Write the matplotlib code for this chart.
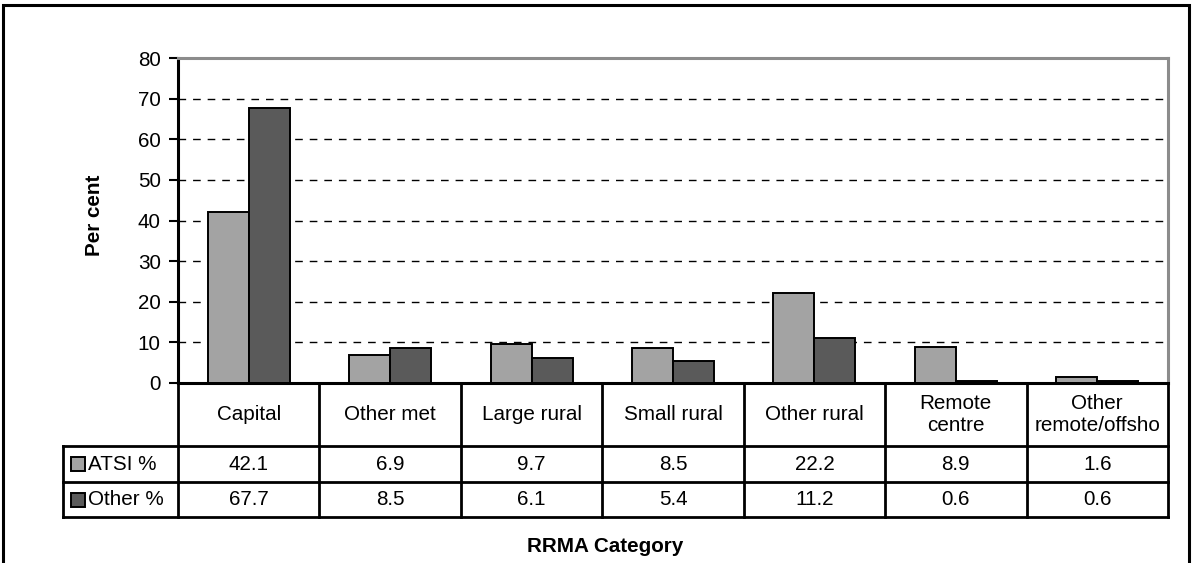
import matplotlib
matplotlib.use("Agg")
import matplotlib.pyplot as plt
import numpy as np
from matplotlib.patches import Rectangle

plt.rcParams['font.family'] = ['Liberation Sans', 'DejaVu Sans']

# data table values
categories = ['Capital', 'Other met', 'Large rural', 'Small rural', 'Other rural',
              'Remote\ncentre', 'Other\nremote/offsho']
series_names = ['ATSI %', 'Other %']
atsi = [42.1, 6.9, 9.7, 8.5, 22.2, 8.9, 1.6]
other = [67.7, 8.5, 6.1, 5.4, 11.2, 0.6, 0.6]
yticks = [0, 10, 20, 30, 40, 50, 60, 70, 80]

col_light = '#A3A3A3'
col_dark = '#5A5A5A'
FS = 14.9

W, H = 1192, 563
fig = plt.figure(figsize=(W / 100, H / 100), dpi=100)

def px_rect(x0, y0, x1, y1):
    # pixel box (top-left origin) -> figure fraction [l, b, w, h]
    return [x0 / W, 1 - y1 / H, (x1 - x0) / W, (y1 - y0) / H]

# outer chart border
fig.patches.append(Rectangle((3 / W, -0.05), (1189 - 3) / W, 1.05 - 5 / H,
                             transform=fig.transFigure, fill=False,
                             edgecolor='black', linewidth=2.2, clip_on=False))

# ---- main bar plot ----
ax = fig.add_axes(px_rect(178, 58, 1168, 383))
x = np.arange(len(categories))
bw = 0.29
ax.bar(x - bw / 2, atsi, bw, color=col_light, edgecolor='black', linewidth=1.4, zorder=3)
ax.bar(x + bw / 2, other, bw, color=col_dark, edgecolor='black', linewidth=1.4, zorder=3)

ax.set_xlim(-0.5, len(categories) - 0.5)
ax.set_ylim(0, 80)
ax.set_yticks(yticks)
ax.set_yticklabels([str(v) for v in yticks], fontsize=FS)
ax.set_xticks([])
ax.tick_params(axis='y', direction='out', length=6.5, width=1.5, pad=6)
for v in yticks[1:-1]:
    ax.axhline(v, color='black', linestyle=(0, (5.5, 5)), linewidth=1.0, zorder=1)

ax.spines['left'].set_linewidth(2.2)
ax.spines['left'].set_color('black')
ax.spines['bottom'].set_linewidth(2.2)
ax.spines['bottom'].set_color('black')
for s in ('top', 'right'):
    ax.spines[s].set_color('#8C8C8C')
    ax.spines[s].set_linewidth(2.2)

fig.text(95 / W, 1 - 215 / H, 'Per cent', rotation=90, ha='center', va='center',
         fontsize=FS, fontweight='bold')

# ---- data table under the plot ----
col_px = (1168 - 178) / len(categories)
left_w = (178 - 63) / col_px
tax = fig.add_axes(px_rect(63, 383, 1168, 517))
tax.set_xlim(-0.5 - left_w, len(categories) - 0.5)
tax.set_ylim(0, 134)
tax.axis('off')

lw = 2.0
row_top = [134, 71, 35, 0]
x_left = -0.5 - left_w
x_right = len(categories) - 0.5
# horizontal rules
tax.plot([-0.5, x_right], [134, 134], color='black', lw=lw, clip_on=False)
for yy in row_top[1:]:
    tax.plot([x_left, x_right], [yy, yy], color='black', lw=lw, clip_on=False)
# vertical rules
for xb in np.arange(len(categories) + 1) - 0.5:
    tax.plot([xb, xb], [0, 134], color='black', lw=lw, clip_on=False)
tax.plot([x_left, x_left], [0, 71], color='black', lw=lw, clip_on=False)

for i, c in enumerate(categories):
    tax.text(i, (134 + 71) / 2, c, ha='center', va='center', fontsize=FS,
             linespacing=1.2)
    tax.text(i, (71 + 35) / 2, f'{atsi[i]:.1f}', ha='center', va='center', fontsize=FS)
    tax.text(i, 35 / 2, f'{other[i]:.1f}', ha='center', va='center', fontsize=FS)

# row headers with legend keys
key_w = 14 / col_px
for (ylo, yhi), name, col in zip([(35, 71), (0, 35)], series_names, [col_light, col_dark]):
    ymid = (ylo + yhi) / 2
    tax.add_patch(Rectangle((x_left + 8 / col_px, ymid - 7), key_w, 14, facecolor=col,
                            edgecolor='black', linewidth=1.4, clip_on=False))
    tax.text(x_left + 25 / col_px, ymid, name, ha='left', va='center', fontsize=FS)

fig.text(605 / W, 1 - 546 / H, 'RRMA Category', ha='center', va='center',
         fontsize=FS, fontweight='bold')

fig.savefig('out.png', dpi=100)
